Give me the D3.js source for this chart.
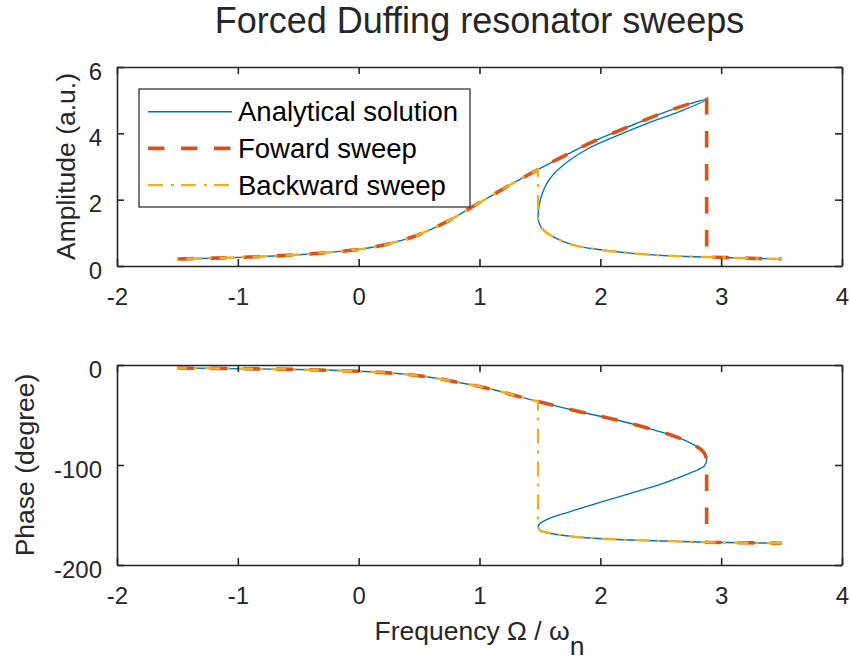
<!DOCTYPE html>
<html>
<head>
<meta charset="utf-8">
<script src="https://cdn.jsdelivr.net/npm/d3@7"></script>
<style>
  body { margin: 0; background: #fff; }
  svg { display: block; font-family: "Liberation Sans", Arial, Helvetica, sans-serif; }
  .frame line, .frame path { stroke: #262626; }
  .tick text { fill: #262626; }
</style>
</head>
<body>
<svg id="chart" width="850" height="664"></svg>
<script>
// axis ticks
var freqTicks = [-2, -1, 0, 1, 2, 3, 4];
var ampTicks = [0, 2, 4, 6];
var phaseTicks = [-200, -100, 0];

// amplitude, analytical solution (upper, middle, lower branch)
var ampUpperFreq = [-1.5, -1.0, -0.5, 0, 0.18, 0.28, 0.45, 0.73, 0.92, 1.09, 1.28, 1.485, 1.69, 1.94, 2.2, 2.47, 2.73, 2.88];
var ampUpper = [0.21, 0.26, 0.34, 0.50, 0.61, 0.70, 0.88, 1.34, 1.74, 2.10, 2.50, 2.91, 3.30, 3.75, 4.15, 4.55, 4.88, 5.02];
var ampMidFreq = [2.88, 2.66, 2.41, 2.14, 1.89, 1.69, 1.58, 1.52, 1.495, 1.485];
var ampMid = [5.02, 4.66, 4.33, 3.93, 3.52, 3.03, 2.62, 2.19, 1.85, 1.54];
var ampLowerFreq = [1.485, 1.49, 1.52, 1.61, 1.78, 2.0, 2.27, 2.55, 2.88, 3.16, 3.5];
var ampLower = [1.54, 1.33, 1.12, 0.88, 0.63, 0.49, 0.38, 0.31, 0.27, 0.24, 0.21];

// phase, same three branches
var phUpperFreq = [-1.5, -1.0, -0.5, 0, 0.29, 0.56, 0.84, 1.0, 1.11, 1.28, 1.485, 1.83, 2.11, 2.38, 2.66, 2.80, 2.86, 2.88];
var phUpper = [-3, -3.7, -4.5, -6.3, -8.3, -11.7, -17.7, -21.5, -24.5, -30, -36.5, -46.7, -54.3, -62.7, -73.3, -81.7, -88, -95];
var phMidFreq = [2.88, 2.86, 2.77, 2.52, 2.25, 1.97, 1.75, 1.58, 1.50, 1.485];
var phMid = [-95, -101, -106.7, -118.3, -128.3, -138.3, -146.7, -153.3, -158.5, -162];
var phLowerFreq = [1.485, 1.50, 1.56, 1.70, 1.83, 2.11, 2.52, 2.88, 3.2, 3.5];
var phLower = [-162, -165.5, -167.7, -170.5, -172.3, -174.3, -176, -177.2, -177.8, -178.2];

// where the sweeps jump between branches
var forwardJump = 2.88;
var backwardJump = 1.485;

var legendLabels = ['Analytical solution', 'Foward sweep', 'Backward sweep'];
var colors = ['#0072BD', '#D95319', '#EDB120'];
var dashes = [null, '16.5,16.5', '15,8,3,7'];
var widths = [1.4, 3.6, 2.4];

function zip(xs, ys) {
  return xs.map(function (x, i) { return [x, ys[i]]; });
}

var svg = d3.select('#chart');
var x = d3.scaleLinear().domain([-2, 4]).range([117, 842]);
var yAmp = d3.scaleLinear().domain([0, 6]).range([266, 67]);
var yPh = d3.scaleLinear().domain([-200, 0]).range([565, 365]);
var plain = function (d) { return String(d); };

// smooth runs of points joined by straight jumps
function sweepPath(y, runs) {
  var line = d3.line().x(function (d) { return x(d[0]); }).y(function (d) { return y(d[1]); })
    .curve(d3.curveCatmullRom.alpha(0.5));
  return runs.map(function (r, i) {
    var d = line(r);
    return i === 0 ? d : d.replace(/^M/, 'L');
  }).join('');
}

function drawPanel(y, ticks, upper, mid, lower, ylabel, labelX) {
  var g = svg.append('g');

  // analytical curve is one continuous run through all three branches
  var analytical = sweepPath(y, [upper.concat(mid.slice(1), lower.slice(1))]);

  var fwdLower = lower.filter(function (d) { return d[0] >= forwardJump; });
  var forward = sweepPath(y, [upper, fwdLower]);

  var bwdLower = lower.slice().reverse();
  var bwdUpper = upper.filter(function (d) { return d[0] <= backwardJump; }).reverse();
  var backward = sweepPath(y, [bwdLower, bwdUpper]);

  [analytical, forward, backward].forEach(function (d, i) {
    g.append('path').attr('d', d).attr('fill', 'none')
      .attr('stroke', colors[i]).attr('stroke-width', widths[i])
      .attr('stroke-dasharray', dashes[i]);
  });

  var frame = g.append('g').attr('class', 'frame');
  var fontSize = 24;
  frame.append('g').attr('transform', 'translate(0,' + y.range()[0] + ')')
    .call(d3.axisBottom(x).tickValues(freqTicks).tickFormat(plain).tickSize(-7).tickPadding(22).tickSizeOuter(0))
    .call(function (a) { a.selectAll('text').attr('font-size', fontSize).attr('font-family', null); });
  frame.append('g').attr('transform', 'translate(0,' + y.range()[1] + ')')
    .call(d3.axisTop(x).tickValues(freqTicks).tickSize(-7).tickSizeOuter(0).tickFormat(''));
  frame.append('g').attr('transform', 'translate(' + x.range()[0] + ',0)')
    .call(d3.axisLeft(y).tickValues(ticks).tickFormat(plain).tickSize(-7).tickPadding(15).tickSizeOuter(0))
    .call(function (a) { a.selectAll('text').attr('font-size', fontSize).attr('dy', '0.5em').attr('font-family', null); });
  frame.append('g').attr('transform', 'translate(' + x.range()[1] + ',0)')
    .call(d3.axisRight(y).tickValues(ticks).tickSize(-7).tickSizeOuter(0).tickFormat(''));
  frame.selectAll('.domain, .tick line').attr('stroke-width', 1.6);

  svg.append('text').attr('transform', 'translate(' + labelX + ',' + (y.range()[0] + y.range()[1]) / 2 + ') rotate(-90)')
    .attr('text-anchor', 'middle').attr('font-size', 26.5).attr('fill', '#262626').text(ylabel);
  return g;
}

var topPanel = drawPanel(yAmp, ampTicks, zip(ampUpperFreq, ampUpper), zip(ampMidFreq, ampMid),
  zip(ampLowerFreq, ampLower), 'Amplitude (a.u.)', 75);
drawPanel(yPh, phaseTicks, zip(phUpperFreq, phUpper), zip(phMidFreq, phMid),
  zip(phLowerFreq, phLower), 'Phase (degree)', 34);

// title
svg.append('text').attr('x', (x.range()[0] + x.range()[1]) / 2).attr('y', 33)
  .attr('text-anchor', 'middle').attr('font-size', 36).attr('fill', '#262626')
  .text('Forced Duffing resonator sweeps');

// x label with subscript
var xl = svg.append('text').attr('x', (x.range()[0] + x.range()[1]) / 2).attr('y', 640)
  .attr('text-anchor', 'middle').attr('font-size', 26.5).attr('fill', '#262626');
xl.append('tspan').text('Frequency \u03A9 / \u03C9');
xl.append('tspan').attr('dy', 15).text('n');

// legend
var lg = topPanel.append('g').attr('transform', 'translate(139,89)');
lg.append('rect').attr('width', 331).attr('height', 118).attr('fill', '#fff')
  .attr('stroke', '#262626').attr('stroke-width', 1.2);
legendLabels.forEach(function (name, i) {
  var cy = 22.7 + i * 36.7;
  lg.append('line').attr('x1', 9).attr('x2', 93).attr('y1', cy).attr('y2', cy)
    .attr('stroke', colors[i]).attr('stroke-width', widths[i]).attr('stroke-dasharray', dashes[i]);
  lg.append('text').attr('x', 99).attr('y', cy).attr('dy', '0.35em')
    .attr('font-size', 27.5).attr('fill', '#000').text(name);
});
</script>
</body>
</html>
